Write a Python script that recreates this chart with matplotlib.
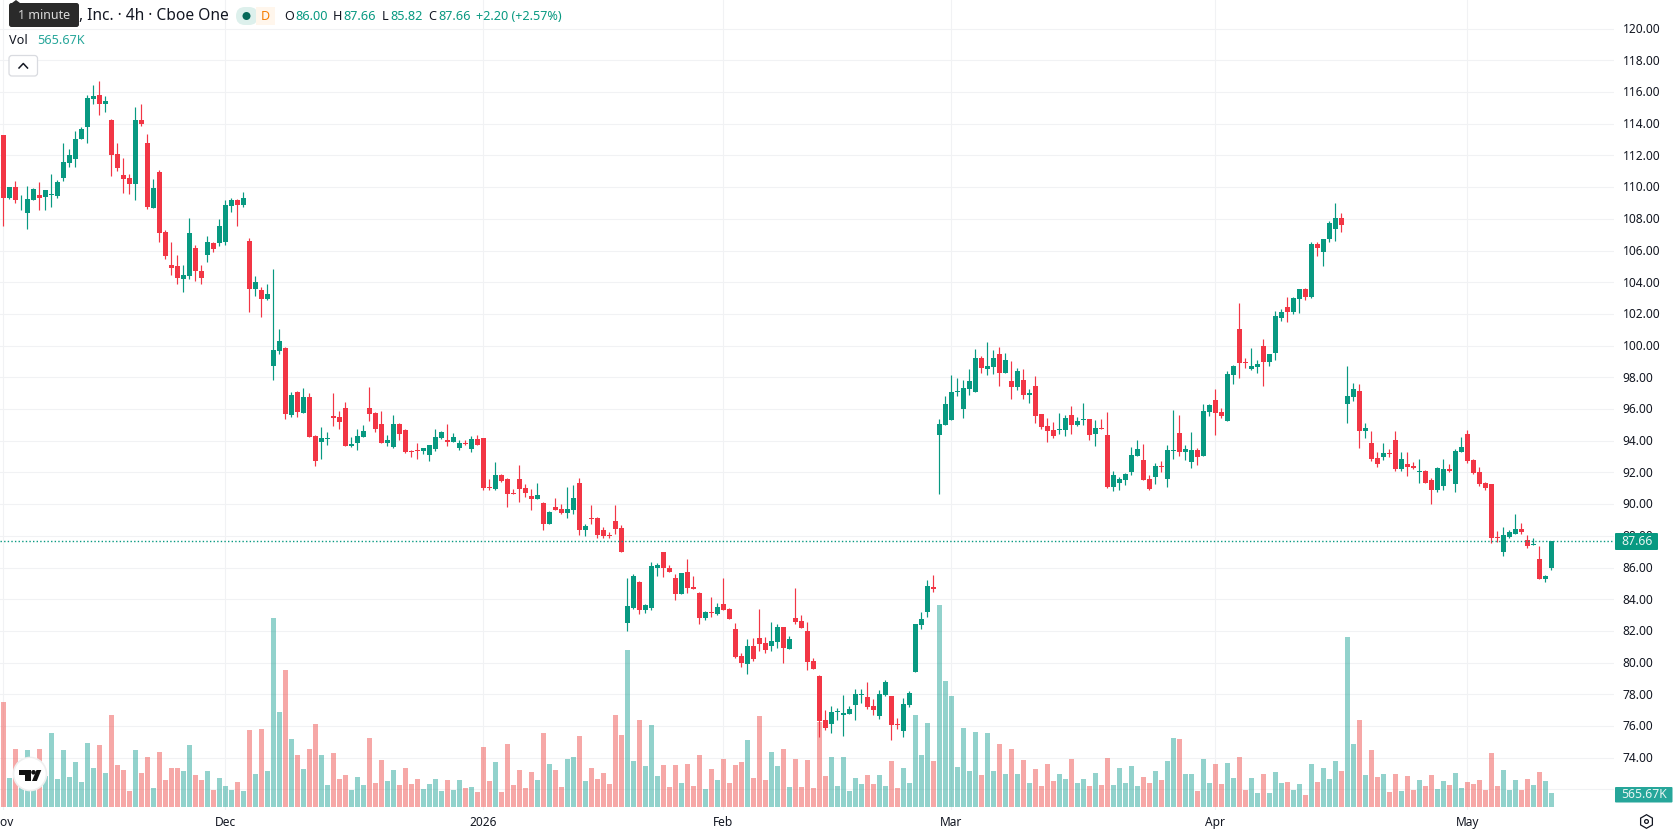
#!/usr/bin/env python
import numpy as np
import matplotlib
matplotlib.use("Agg")
import matplotlib.pyplot as plt
from matplotlib.patches import Rectangle, FancyBboxPatch, Circle, Polygon, RegularPolygon
from matplotlib.transforms import ScaledTranslation

opens = [
    113.32, 109.32, 110.04, 109.24, 108.40, 109.20, 109.53, 109.41, 109.53, 109.47,
    110.60, 111.55, 111.80, 113.06, 113.82, 115.58, 115.83, 115.27, 114.26, 112.12,
    110.79, 110.60, 110.23, 114.26, 112.81, 108.71, 110.98, 107.14, 105.06, 105.00,
    104.18, 104.37, 106.13, 104.74, 105.69, 106.45, 106.45, 106.51, 108.84, 109.16,
    108.90, 106.63, 103.55, 103.49, 102.92, 98.70, 99.64, 99.83, 95.61, 97.06,
    95.74, 96.75, 94.29, 93.91, 94.10, 95.55, 95.48, 96.05, 93.66, 93.85,
    94.23, 96.05, 95.74, 95.04, 93.85, 93.60, 95.04, 94.67, 93.34, 93.41,
    93.34, 93.09, 93.47, 94.16, 94.04, 93.91, 93.53, 93.85, 93.47, 94.10,
    94.16, 91.07, 90.95, 91.83, 91.57, 90.69, 91.57, 91.01, 90.51, 90.32,
    90.07, 88.74, 89.81, 89.69, 89.44, 89.62, 91.33, 88.37, 89.10, 89.10,
    88.37, 88.05, 88.93, 88.49, 82.48, 83.46, 85.06, 83.30, 83.42, 86.00,
    86.95, 86.00, 85.31, 84.30, 85.69, 84.75, 84.37, 82.79, 83.17, 83.04,
    83.67, 83.36, 82.10, 80.40, 79.89, 81.03, 81.53, 81.22, 81.03, 81.28,
    82.23, 80.84, 82.79, 82.60, 81.97, 80.08, 79.14, 76.37, 76.11, 76.87,
    76.68, 76.74, 77.31, 77.94, 77.82, 77.25, 76.62, 77.94, 77.88, 76.11,
    75.67, 77.31, 79.39, 82.35, 83.17, 84.75, 94.35, 94.98, 95.30, 97.06,
    95.99, 97.25, 97.06, 99.20, 98.51, 98.64, 99.45, 98.26, 97.75, 97.37,
    97.82, 96.87, 97.44, 95.67, 94.92, 94.67, 94.67, 94.67, 95.61, 94.98,
    95.30, 95.36, 94.41, 94.79, 94.35, 91.08, 91.33, 91.52, 92.02, 93.03,
    92.78, 91.58, 91.71, 92.40, 91.58, 93.34, 94.48, 93.28, 92.65, 93.41,
    93.03, 95.80, 96.56, 95.80, 95.23, 98.13, 101.07, 98.98, 98.54, 98.67,
    99.99, 98.98, 99.55, 101.76, 102.46, 102.14, 102.96, 103.60, 103.09, 106.44,
    105.94, 106.76, 107.39, 108.08, 96.33, 96.77, 97.15, 94.62, 93.86, 92.91,
    92.98, 93.23, 94.05, 92.22, 92.53, 92.41, 92.03, 92.09, 91.52, 90.89,
    91.14, 92.22, 91.27, 93.29, 94.43, 92.79, 92.03, 91.33, 91.27, 87.92,
    86.97, 87.92, 88.11, 88.43, 87.73, 87.42, 86.53, 85.27, 86.00,
]
highs = [
    113.32, 110.04, 110.42, 109.51, 110.10, 109.97, 110.35, 109.85, 110.86, 110.48,
    112.81, 112.43, 113.57, 113.82, 115.83, 116.46, 116.72, 115.77, 114.32, 112.81,
    111.86, 110.86, 115.08, 115.27, 113.38, 110.54, 111.11, 107.27, 106.57, 105.69,
    105.12, 108.08, 106.32, 105.06, 106.95, 106.57, 107.96, 109.16, 109.34, 109.28,
    109.72, 106.80, 104.37, 103.67, 103.86, 104.81, 101.03, 99.89, 97.06, 97.12,
    97.31, 97.00, 94.35, 94.85, 94.54, 97.00, 95.86, 96.43, 94.23, 94.73,
    94.98, 97.37, 95.80, 95.86, 94.35, 95.61, 95.11, 94.73, 93.41, 93.85,
    93.53, 93.72, 94.73, 94.60, 95.04, 94.48, 94.04, 94.04, 94.29, 94.35,
    94.16, 91.57, 92.65, 91.89, 91.64, 90.95, 92.46, 91.26, 90.95, 91.33,
    90.13, 89.56, 90.38, 90.00, 91.07, 91.20, 91.64, 88.74, 89.94, 89.19,
    88.56, 88.24, 89.94, 88.68, 85.37, 85.56, 85.12, 83.67, 86.32, 86.26,
    86.95, 86.13, 85.56, 85.63, 86.51, 85.44, 84.43, 83.23, 84.12, 83.74,
    85.31, 83.42, 82.48, 80.59, 81.47, 81.53, 83.36, 81.60, 82.54, 82.41,
    82.23, 81.66, 84.68, 82.98, 82.54, 80.27, 79.20, 77.00, 77.25, 77.12,
    77.94, 77.25, 78.32, 78.32, 78.76, 77.69, 78.26, 78.89, 77.88, 76.49,
    77.75, 78.19, 82.41, 83.17, 85.19, 85.50, 95.36, 96.81, 98.13, 97.94,
    97.82, 98.51, 99.77, 99.33, 100.21, 99.71, 99.90, 99.52, 99.01, 98.57,
    98.51, 97.25, 98.07, 95.67, 95.42, 95.17, 95.74, 95.61, 96.18, 95.49,
    96.37, 95.36, 95.30, 95.36, 95.80, 92.08, 91.71, 91.96, 93.60, 94.04,
    93.77, 91.83, 92.59, 92.71, 93.72, 95.93, 95.61, 93.72, 94.54, 93.53,
    96.30, 96.30, 97.25, 96.05, 98.38, 98.76, 102.71, 99.23, 99.87, 99.11,
    100.44, 99.49, 102.21, 102.33, 103.09, 103.09, 103.60, 103.66, 106.57, 106.57,
    106.76, 107.89, 108.97, 108.40, 98.73, 97.65, 97.59, 95.13, 94.62, 93.29,
    93.86, 93.48, 94.62, 93.29, 93.29, 92.66, 92.85, 92.16, 91.65, 92.34,
    92.85, 92.53, 93.48, 94.24, 94.68, 92.85, 92.34, 91.40, 91.27, 88.30,
    88.55, 88.36, 89.37, 88.80, 88.05, 87.86, 87.35, 85.52, 87.66,
]
lows = [
    107.54, 109.28, 108.97, 108.59, 107.39, 109.16, 108.59, 108.53, 108.78, 109.34,
    110.42, 111.30, 111.30, 113.06, 112.81, 115.27, 114.57, 114.76, 110.73, 111.05,
    109.66, 109.60, 109.22, 113.88, 108.65, 108.71, 106.57, 105.44, 104.43, 103.86,
    103.40, 104.18, 104.05, 103.86, 105.25, 105.88, 106.26, 106.32, 108.46, 107.52,
    108.78, 102.10, 103.11, 101.78, 102.86, 97.82, 99.45, 95.36, 95.48, 95.48,
    95.74, 94.23, 92.40, 92.84, 93.72, 94.92, 94.73, 93.66, 93.60, 93.41,
    94.23, 95.23, 94.54, 93.85, 93.66, 93.53, 94.04, 93.22, 92.96, 92.84,
    93.15, 92.71, 93.34, 94.10, 93.66, 93.91, 93.41, 93.72, 93.28, 93.72,
    90.89, 90.89, 90.89, 91.39, 89.80, 90.63, 90.13, 90.45, 89.62, 90.32,
    88.37, 88.74, 89.62, 89.37, 89.12, 89.37, 88.05, 87.99, 88.74, 87.86,
    87.86, 87.86, 88.11, 87.01, 81.97, 83.40, 83.04, 83.11, 83.30, 85.44,
    85.38, 85.69, 83.93, 84.30, 84.37, 84.62, 82.41, 82.67, 82.86, 82.98,
    83.30, 82.73, 80.27, 79.71, 79.26, 80.08, 80.71, 80.59, 80.71, 80.90,
    79.96, 80.84, 82.41, 82.16, 79.52, 79.58, 75.30, 75.74, 75.55, 76.37,
    75.36, 76.74, 76.37, 77.44, 77.06, 76.68, 76.43, 77.88, 75.11, 75.80,
    75.30, 77.19, 79.39, 82.10, 82.86, 84.43, 90.63, 94.98, 95.30, 96.81,
    95.42, 96.87, 97.06, 98.26, 98.13, 98.19, 97.44, 98.26, 96.62, 97.19,
    96.62, 96.37, 95.11, 94.73, 93.91, 94.16, 94.41, 94.29, 94.41, 94.92,
    94.98, 94.04, 93.66, 94.73, 91.01, 90.83, 90.87, 91.20, 91.83, 93.03,
    91.52, 90.89, 91.27, 92.02, 91.08, 92.84, 93.03, 92.78, 92.27, 92.46,
    93.03, 95.55, 94.35, 95.42, 95.23, 97.56, 97.97, 98.60, 98.48, 98.29,
    97.46, 98.73, 99.11, 101.57, 101.51, 102.02, 102.08, 102.90, 103.03, 105.68,
    105.05, 106.57, 106.63, 107.14, 95.13, 96.52, 93.55, 94.18, 92.72, 92.34,
    92.79, 92.98, 92.09, 92.09, 91.78, 92.22, 91.33, 91.33, 90.01, 90.76,
    90.89, 92.03, 90.76, 93.29, 92.60, 91.90, 91.14, 90.89, 87.54, 87.60,
    86.72, 87.86, 88.11, 88.11, 87.22, 87.42, 85.27, 85.08, 85.82,
]
closes = [
    109.34, 110.04, 109.22, 109.28, 109.28, 109.91, 109.32, 109.79, 109.60, 110.35,
    111.61, 112.05, 113.06, 113.69, 115.64, 115.77, 115.27, 115.46, 112.05, 111.23,
    110.54, 110.23, 114.26, 114.01, 108.78, 109.97, 107.08, 105.63, 104.87, 104.30,
    104.43, 107.08, 104.68, 104.30, 106.51, 106.07, 107.58, 108.90, 109.22, 108.90,
    109.34, 103.55, 103.99, 102.92, 103.23, 99.71, 100.27, 95.67, 96.87, 95.80,
    96.75, 94.23, 92.71, 94.16, 94.16, 95.42, 95.17, 93.66, 93.79, 94.29,
    94.60, 95.67, 94.73, 93.85, 94.04, 95.04, 94.41, 93.28, 93.28, 93.34,
    93.53, 93.72, 94.23, 94.54, 93.91, 94.23, 93.85, 93.79, 94.10, 93.72,
    91.01, 91.01, 91.83, 91.45, 90.63, 90.63, 90.95, 90.69, 90.32, 90.57,
    88.74, 89.50, 89.62, 89.44, 89.69, 90.38, 88.37, 88.62, 89.04, 88.05,
    87.99, 87.99, 88.43, 87.01, 83.55, 85.44, 83.30, 83.61, 86.07, 86.13,
    85.94, 85.69, 84.30, 85.63, 84.68, 84.62, 82.79, 83.17, 83.11, 83.49,
    83.30, 82.73, 80.34, 79.96, 81.03, 80.21, 81.15, 80.78, 81.34, 82.23,
    80.90, 81.47, 82.54, 82.16, 80.02, 79.58, 76.30, 75.86, 76.87, 76.93,
    76.81, 77.06, 78.00, 78.00, 77.19, 77.00, 78.00, 78.76, 76.05, 76.05,
    77.37, 78.07, 82.41, 82.73, 84.81, 84.62, 95.04, 96.30, 97.06, 97.12,
    97.31, 97.75, 99.20, 98.57, 98.70, 99.20, 98.26, 99.08, 97.37, 98.38,
    96.87, 97.00, 95.55, 94.85, 94.60, 94.29, 94.73, 95.42, 94.98, 95.23,
    95.36, 94.35, 94.79, 94.73, 91.08, 91.83, 91.58, 91.89, 93.09, 93.47,
    91.52, 90.95, 92.40, 92.34, 93.41, 93.41, 93.28, 93.47, 93.41, 92.97,
    95.86, 96.24, 95.74, 95.55, 98.19, 98.70, 98.92, 98.92, 98.73, 98.86,
    98.98, 99.49, 101.89, 102.14, 102.14, 103.03, 103.60, 103.09, 106.44, 106.19,
    106.76, 107.71, 108.08, 107.64, 96.83, 97.28, 94.62, 94.81, 92.85, 92.53,
    93.23, 93.17, 92.22, 92.85, 92.34, 92.28, 92.09, 91.33, 90.89, 92.28,
    92.22, 92.09, 93.36, 93.61, 92.72, 91.97, 91.27, 91.02, 87.86, 87.86,
    88.05, 88.24, 88.43, 88.24, 87.35, 87.48, 85.27, 85.45, 87.66,
]
# traded volume per bar, in thousands
volumes = [
    4243, 1172, 2344, 1765, 2303, 1765, 2344, 1253, 2990, 1131,
    2303, 1212, 1818, 1010, 2586, 1576, 2505, 1374, 3718, 1697,
    1495, 647, 2303, 1374, 2020, 768, 2223, 1091, 1576, 1576,
    1455, 2505, 1293, 1091, 1455, 687, 1172, 849, 687, 1010,
    647, 3112, 1334, 3152, 1455, 7637, 3839, 5536, 2748, 2101,
    1536, 2344, 3354, 2101, 889, 2182, 1131, 1293, 687, 1212,
    889, 2788, 970, 1899, 1051, 1495, 889, 1576, 929, 1131,
    727, 929, 1131, 647, 1091, 687, 1091, 768, 808, 606,
    2425, 1051, 1818, 606, 2546, 889, 1495, 768, 1414, 1091,
    2990, 1738, 1495, 808, 1940, 2020, 2869, 1051, 1576, 1131,
    1374, 929, 3718, 2910, 6344, 1859, 3516, 1657, 3314, 1253,
    1697, 808, 1697, 970, 1738, 849, 2101, 727, 1536, 1091,
    1940, 970, 1697, 1818, 2707, 1172, 3677, 1091, 2223, 1657,
    2344, 808, 1940, 808, 1899, 768, 3435, 1253, 2020, 849,
    2020, 647, 1172, 929, 1293, 929, 1293, 849, 1859, 768,
    1576, 970, 3718, 2101, 3394, 1859, 8163, 5092, 4486, 1616,
    3192, 1455, 3031, 1293, 2990, 1455, 2546, 1334, 2344, 1334,
    1899, 970, 1536, 849, 1738, 1051, 1334, 1131, 1940, 970,
    1131, 849, 1374, 889, 1980, 889, 1576, 970, 1657, 849,
    1212, 970, 1455, 1091, 1859, 2788, 2748, 1334, 1334, 647,
    1940, 970, 1738, 929, 1778, 1172, 2020, 687, 1172, 566,
    1334, 566, 1414, 970, 1010, 687, 929, 485, 1738, 1010,
    1576, 1131, 1859, 1455, 6870, 2546, 3516, 1293, 2303, 1212,
    1334, 606, 1334, 647, 1253, 687, 1091, 849, 1293, 727,
    1051, 889, 1374, 768, 1010, 929, 1091, 687, 2182, 849,
    1495, 687, 1091, 687, 1131, 889, 1414, 1051, 565.67,
]

month_ticks = [0, 37, 80, 120, 158, 202, 244]
month_labels = ["Nov", "Dec", "2026", "Feb", "Mar", "Apr", "May"]
price_ticks = list(range(72, 122, 2))
last_price = 87.66

UP = "#089981"
DOWN = "#F23645"
VOL_UP = "#26A69A"
VOL_DOWN = "#EF5350"
GRID = "#F1F2F4"
TEXT = "#131722"
FONT = "Noto Sans"

W, H = 1678, 835
PLOT_W, PLOT_H = 1614, 810

plt.rcParams["font.family"] = FONT

fig = plt.figure(figsize=(W / 100, H / 100), dpi=100, facecolor="white")
rect = [0, (H - PLOT_H) / H, PLOT_W / W, PLOT_H / H]

# price pane: grid and axis labels live on the bottom layer
ax = fig.add_axes(rect)
ax_vol = ax.twinx()
ax_candle = ax.twinx()

x = np.arange(len(closes))
o, h, l, c = map(np.array, (opens, highs, lows, closes))
colors = [UP if cc >= oo else DOWN for oo, cc in zip(o, c)]
vol_colors = [VOL_UP if cc >= oo else VOL_DOWN for oo, cc in zip(o, c)]

xlim = (-3.33 / 6, (PLOT_W - 3.33) / 6)
price_lim = (70.70, 121.81)
for a in (ax, ax_vol, ax_candle):
    a.set_xlim(*xlim)
    for s in a.spines.values():
        s.set_visible(False)
ax.set_ylim(*price_lim)
ax_candle.set_ylim(*price_lim)
ax_vol.set_ylim(-121, 32607)
ax_vol.patch.set_visible(False)
ax_candle.patch.set_visible(False)
ax_vol.set_yticks([])
ax_candle.set_yticks([])

ax.set_yticks(price_ticks)
ax.set_yticklabels(["" if p == 72 else "%.2f" % p for p in price_ticks])
ax.yaxis.tick_right()
ax.tick_params(axis="y", length=0, pad=6.2, labelsize=8.6, labelcolor=TEXT)
nudge = ScaledTranslation(0, 0.7 / 100, fig.dpi_scale_trans)
for t in ax.get_yticklabels():
    t.set_transform(t.get_transform() + nudge)
ax.set_xticks(month_ticks)
ax.set_xticklabels(month_labels)
ax.tick_params(axis="x", length=0, pad=4.2, labelsize=8.6, labelcolor=TEXT)
ax.get_xticklabels()[2].set_fontweight("bold")
ax.grid(True, color=GRID, linewidth=0.8)
ax.set_axisbelow(True)

ax_vol.bar(x, volumes, width=5 / 6, color=vol_colors, alpha=0.5, linewidth=0)

ax_candle.vlines(x, l, h, colors=colors, linewidth=0.85)
ax_candle.bar(x, np.abs(c - o), bottom=np.minimum(o, c), width=5 / 6,
              color=colors, linewidth=0)
last_line = ax_candle.axhline(last_price, color=UP, linewidth=1.0,
                              linestyle=(0, (1, 1.6)))
last_line.set_snap(True)

# overlay in pixel coordinates for the legend, badges and logo
ov = fig.add_axes([0, 0, 1, 1], zorder=10)
ov.set_xlim(0, W)
ov.set_ylim(H, 0)
ov.axis("off")
ov.patch.set_visible(False)


def label(px, py, s, color=TEXT, size=10, **kw):
    ov.text(px, py, s, color=color, fontsize=size, va="center", **kw)


# legend row
label(79, 16.5, ", Inc. · 4h · Cboe One", size=11.2)
ov.add_patch(FancyBboxPatch((239, 10), 33, 12, boxstyle="round,pad=0,rounding_size=6",
                            facecolor="#FFF3E6", edgecolor="none", mutation_aspect=1))
ov.add_patch(FancyBboxPatch((236, 7), 22, 18, boxstyle="round,pad=0,rounding_size=9",
                            facecolor="#DDF0EC", edgecolor="none"))
ov.add_patch(Rectangle((256, 7), 19, 18, facecolor="#FFF6EC", edgecolor="none"))
ov.add_patch(Circle((246.5, 16), 4, facecolor="#06695A", edgecolor="none"))
label(265, 16.5, "D", color="#F57C00", size=9, ha="center", fontweight="medium")
for px, s in [(284, "O"), (333, "H"), (382, "L"), (428.5, "C")]:
    label(px, 16.5, s, size=9.1)
for px, s in [(295, "86.00"), (343.5, "87.66"), (390, "85.82"), (438, "87.66"),
              (476.5, "+2.20 (+2.57%)")]:
    label(px, 16.5, s, color=UP, size=9.1)

label(9, 41, "Vol", size=9.1)
label(37, 41, "565.67K", color="#26A69A", size=9.1)

ov.add_patch(FancyBboxPatch((9, 55.5), 28.5, 20.5, boxstyle="round,pad=0,rounding_size=3",
                            facecolor="white", edgecolor="#D9DBE0", linewidth=0.9))
ov.plot([19, 23.3, 27.5], [68, 63.5, 68], color=TEXT, linewidth=1.1)

# tooltip
ov.add_patch(Polygon([[12, 3], [16, 0], [20, 3]], facecolor="#2A2A2A", edgecolor="none"))
ov.add_patch(FancyBboxPatch((9, 3), 70, 24, boxstyle="round,pad=0,rounding_size=2.5",
                            facecolor="#2A2A2A", edgecolor="none"))
label(44, 15.5, "1 minute", color="#DADADA", size=9, ha="center")

# last price and last volume badges
ov.add_patch(FancyBboxPatch((1615, 533), 43, 17, boxstyle="round,pad=0,rounding_size=1",
                            facecolor=UP, edgecolor="none"))
label(1637.5, 541.3, "%.2f" % last_price, color="#E8F5F2", size=8.8, ha="center")
ov.add_patch(FancyBboxPatch((1615, 787), 57.5, 15.5, boxstyle="round,pad=0,rounding_size=1",
                            facecolor="#26A69A", edgecolor="none"))
label(1644.5, 794.3, "565.67K", color="#E8F5F2", size=8.8, ha="center")

# settings hexagon
ov.add_patch(RegularPolygon((1646.5, 821.5), 6, radius=6.8, orientation=0,
                            facecolor="none", edgecolor=TEXT, linewidth=0.9))
ov.add_patch(Circle((1646.5, 821.5), 1.9, facecolor="none", edgecolor=TEXT, linewidth=0.9))

# round logo, bottom left
ov.add_patch(Circle((30, 774), 16.5, facecolor="white", edgecolor="#EFEFEF", linewidth=1.2))
ov.add_patch(Polygon([[18.6, 770], [30.5, 770], [30.5, 781], [24.5, 781], [24.5, 774.5], [18.6, 774.5]],
                     facecolor="#111111", edgecolor="none"))
ov.add_patch(Circle((33.5, 772.3), 2.3, facecolor="#111111", edgecolor="none"))
ov.add_patch(Polygon([[36.5, 770], [41.3, 770], [36.8, 781], [32, 781]],
                     facecolor="#111111", edgecolor="none"))

fig.savefig("out.png", dpi=100, facecolor="white")
